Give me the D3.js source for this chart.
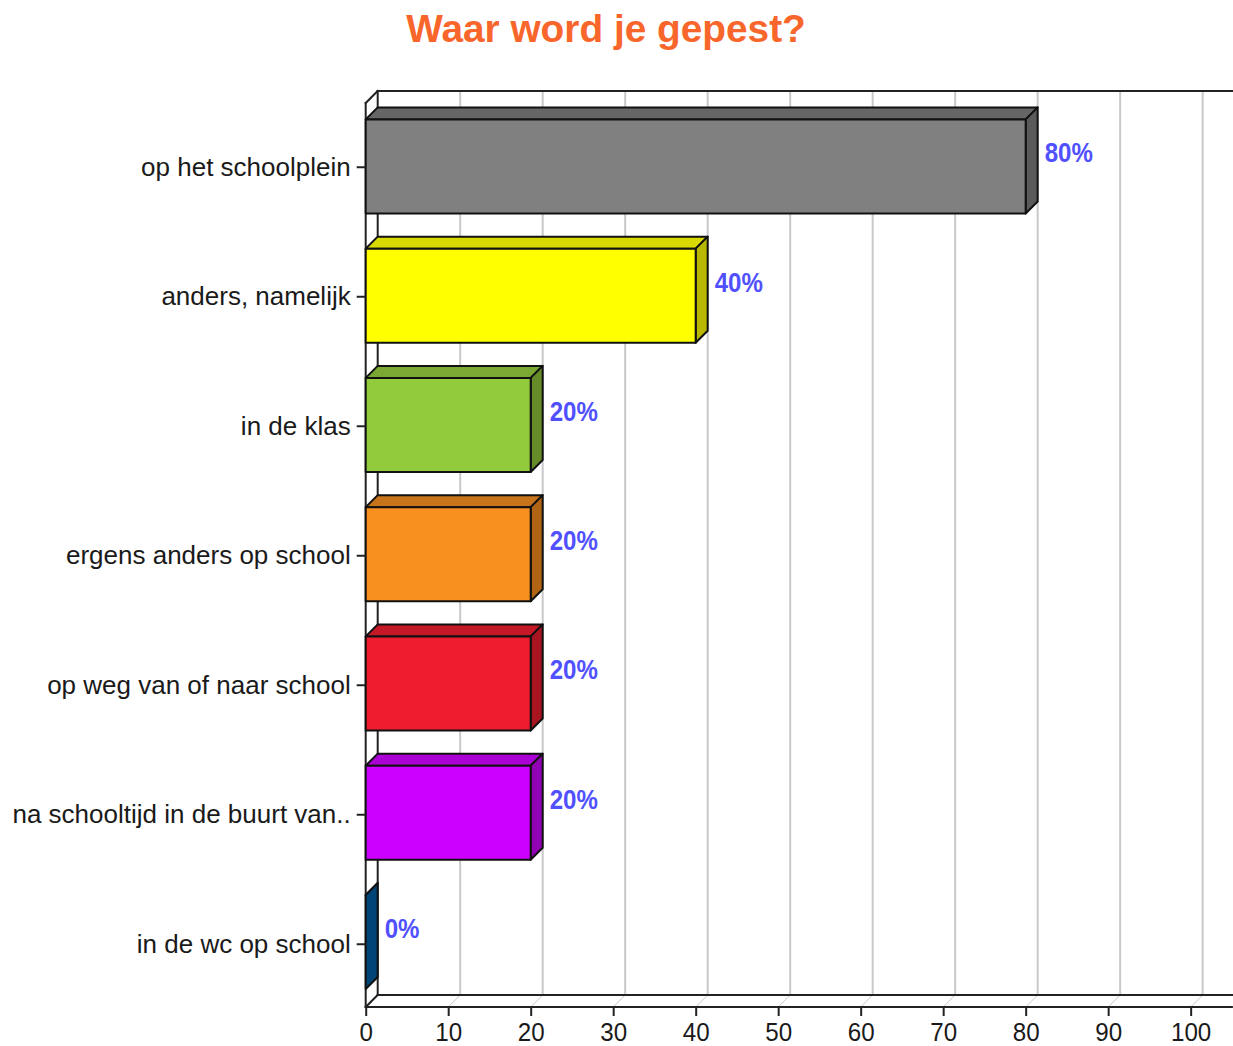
<!DOCTYPE html>
<html><head><meta charset="utf-8">
<style>html,body{margin:0;padding:0;background:#fff;overflow:hidden}svg{display:block}text{font-family:"Liberation Sans",Arial,sans-serif}</style>
<script src="https://cdn.jsdelivr.net/npm/d3@7"></script></head><body>
<script>
const titleText = "Waar word je gepest?";
const categories = ["op het schoolplein","anders, namelijk","in de klas","ergens anders op school","op weg van of naar school","na schooltijd in de buurt van..","in de wc op school"];
const values = [80,40,20,20,20,20,0];
const valueLabels = ["80%","40%","20%","20%","20%","20%","0%"];
const frontColors = ["#808080","#ffff00","#92cc3c","#f7901e","#ed1c2e","#cc00ff","#004f8b"];
const topColors = ["#666666","#d9d900","#7aa832","#c8741a","#c41826","#aa00d6","#004f8b"];
const sideColors = ["#5a5a5a","#b8b800","#668c2a","#b06414","#a81420","#9000b4","#004478"];
const xTicks = [0,10,20,30,40,50,60,70,80,90,100];

const W=1233,H=1046,dx=12,dy=12;
const svg=d3.select("body").append("svg").attr("width",W).attr("height",H);
const x=d3.scaleLinear().domain([0,105]).range([365.7,1231.9]);
const y=d3.scaleBand().domain(categories).range([101.8,1006.6]).paddingInner(0.272).paddingOuter(0.136);
const yTick=d3.scaleBand().domain(categories).range([102.5,1009]);
const top0=103,bot0=1007;

svg.append("text").attr("x",606).attr("y",42).attr("text-anchor","middle")
  .attr("font-size",38.8).attr("font-weight","bold").attr("fill","#f9662b").text(titleText);

// grid
svg.selectAll("line.g").data(xTicks.slice(1)).join("line").attr("class","g")
  .attr("x1",d=>x(d)+dx).attr("x2",d=>x(d)+dx).attr("y1",top0-dy).attr("y2",bot0-dy)
  .attr("stroke","#c8c8c8").attr("stroke-width",2);
svg.selectAll("line.f").data(xTicks.slice(1)).join("line").attr("class","f")
  .attr("x1",d=>x(d)).attr("x2",d=>x(d)+dx).attr("y1",bot0).attr("y2",bot0-dy)
  .attr("stroke","#c8c8c8").attr("stroke-width",1);

// frame
const ln="#222";
const frame=[[x(0),top0,x(0),bot0],[x(0),top0,x(0)+dx,top0-dy],[x(0)+dx,top0-dy,W+2,top0-dy],
 [x(0)+dx,top0-dy,x(0)+dx,bot0-dy],[x(0)+dx,bot0-dy,W+2,bot0-dy],[x(0),bot0,x(0)+dx,bot0-dy],[x(0),bot0,x(105),bot0]];
svg.selectAll("line.fr").data(frame).join("line").attr("class","fr")
  .attr("x1",d=>d[0]).attr("y1",d=>d[1]).attr("x2",d=>d[2]).attr("y2",d=>d[3])
  .attr("stroke",ln).attr("stroke-width",2).attr("stroke-linecap","square");

// bars
const bars=svg.selectAll("g.b").data(categories).join("g").attr("class","b");
bars.each(function(c,i){
  const g=d3.select(this),x0=x(0),x1=x(values[i]),y0=y(c),y1=y0+y.bandwidth();
  const path=p=>p.map(q=>q.join(",")).join(" ");
  const st={"stroke":"#111","stroke-width":2,"stroke-linejoin":"round"};
  const add=(pts,f)=>{const e=g.append("polygon").attr("points",path(pts)).attr("fill",f);
    Object.entries(st).forEach(([k,v])=>e.attr(k,v));};
  add([[x0,y0],[x0+dx,y0-dy],[x1+dx,y0-dy],[x1,y0]],topColors[i]);
  add([[x1,y0],[x1+dx,y0-dy],[x1+dx,y1-dy],[x1,y1]],sideColors[i]);
  if(values[i]>0) add([[x0,y0],[x1,y0],[x1,y1],[x0,y1]],frontColors[i]);
  g.append("text").attr("text-anchor","start")
   .attr("transform",`translate(${x1+19},${y0+43}) scale(0.86,1)`)
   .attr("font-size",28).attr("font-weight","bold").attr("fill","#5050ff").text(valueLabels[i]);
});

// axes
const yAxis=svg.append("g").attr("transform",`translate(${x(0)},0)`).call(d3.axisLeft(yTick).tickSize(9).tickPadding(6));
yAxis.select(".domain").remove();
yAxis.selectAll("line").attr("stroke",ln).attr("stroke-width",2);
yAxis.selectAll("text").attr("font-size",26).attr("fill","#1a1a1a").attr("font-family","Liberation Sans");
const xAxis=svg.append("g").attr("transform",`translate(0,${bot0})`).call(d3.axisBottom(x).tickValues(xTicks).tickSize(9).tickPadding(7).tickFormat(d3.format("d")));
xAxis.select(".domain").remove();
xAxis.selectAll("line").attr("stroke",ln).attr("stroke-width",2);
xAxis.selectAll("text").attr("font-size",26).attr("fill","#1a1a1a").attr("font-family","Liberation Sans")
  .attr("transform","scale(0.93,1)");
</script></body></html>
